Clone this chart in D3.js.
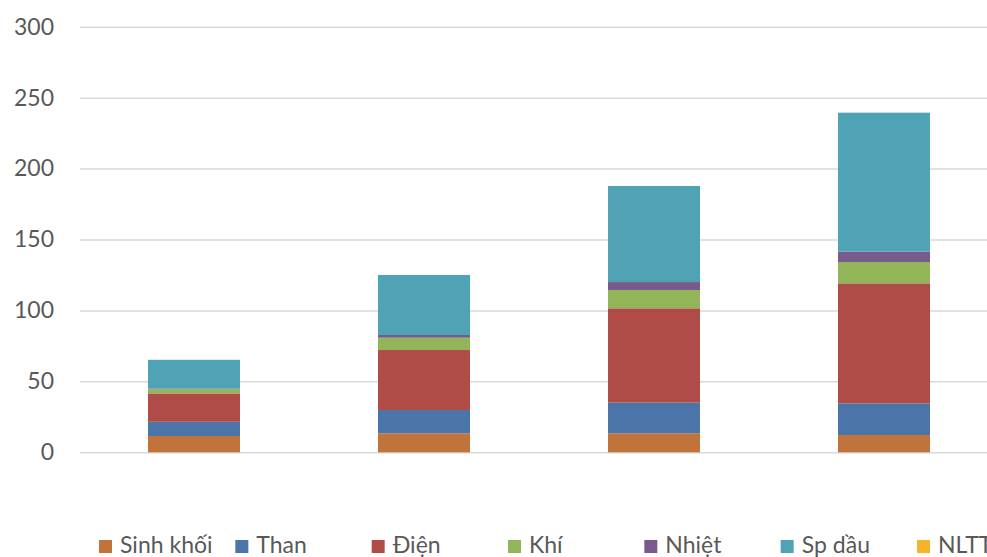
<!DOCTYPE html>
<html>
<head>
<meta charset="utf-8">
<script src="https://cdn.jsdelivr.net/npm/d3@7"></script>
<style>
  html, body { margin: 0; padding: 0; background: #fff; overflow: hidden; }
  svg { display: block; }
  text { font-family: Lato, "Open Sans", sans-serif; fill: #595959; }
</style>
</head>
<body>
<svg id="chart" width="987" height="557"></svg>
<script>
// Energy demand by fuel, stacked per period
const categories = ["1", "2", "3", "4"];
const seriesNames = ["Sinh khối", "Than", "Điện", "Khí", "Nhiệt", "Sp dầu", "NLTT"];
const sinhKhoi = [11.5, 13.4, 13.4, 12.2];
const than     = [10.0, 16.4, 21.6, 22.3];
const dien     = [20.0, 42.3, 66.5, 84.6];
const khi      = [3.0, 8.7, 12.9, 15.0];
const nhiet    = [0.4, 1.9, 5.6, 7.3];
const spDau    = [20.3, 42.3, 67.7, 98.0];
const nltt     = [0, 0, 0, 0];
const yTicks = [0, 50, 100, 150, 200, 250, 300];

const colors = ["#C0733A", "#4B74A8", "#B04C48", "#93B55A", "#785A8C", "#4FA3B4", "#F5B42A"];
const seriesValues = [sinhKhoi, than, dien, khi, nhiet, spDau, nltt];

const rows = categories.map((c, i) => {
  const r = { category: c };
  seriesNames.forEach((s, j) => { r[s] = seriesValues[j][i]; });
  return r;
});

const svg = d3.select("#chart");

const x = d3.scaleBand()
  .domain(categories)
  .range([79, 999])
  .paddingInner(0.6)
  .paddingOuter(0.3);

const y = d3.scaleLinear()
  .domain([0, 300])
  .range([452.3, 26.7]);

// horizontal gridlines and value labels
const yAxis = d3.axisLeft(y)
  .tickValues(yTicks)
  .tickSize(-(999 - 80))
  .tickPadding(26)
  .tickFormat(d3.format("d"));

const gAxis = svg.append("g")
  .attr("transform", "translate(80,0)")
  .call(yAxis);
gAxis.select(".domain").remove();
gAxis.selectAll(".tick line")
  .attr("stroke", "#d9d9d9")
  .attr("stroke-width", 1.5);
gAxis.selectAll(".tick text")
  .attr("font-size", 23)
  .attr("fill", "#595959")
  .style("font-family", "Lato, 'Open Sans', sans-serif");

// stacked bars
const stack = d3.stack().keys(seriesNames);
const layers = stack(rows);

svg.append("g")
  .selectAll("g")
  .data(layers)
  .join("g")
  .attr("fill", (d, i) => colors[i])
  .selectAll("rect")
  .data(d => d)
  .join("rect")
  .attr("x", d => x(d.data.category))
  .attr("width", x.bandwidth())
  .attr("y", d => y(d[1]))
  .attr("height", d => Math.max(0, y(d[0]) - y(d[1])));

// legend along the bottom
const legendX = d3.scalePoint()
  .domain(seriesNames)
  .range([99, 917]);

const legend = svg.append("g")
  .selectAll("g")
  .data(seriesNames)
  .join("g")
  .attr("transform", d => `translate(${legendX(d)},0)`);

legend.append("rect")
  .attr("x", 0)
  .attr("y", 540)
  .attr("width", 13)
  .attr("height", 13)
  .attr("fill", (d, i) => colors[i]);

legend.append("text")
  .attr("x", 21)
  .attr("y", 553)
  .attr("font-size", 23)
  .text(d => d);
</script>
</body>
</html>
